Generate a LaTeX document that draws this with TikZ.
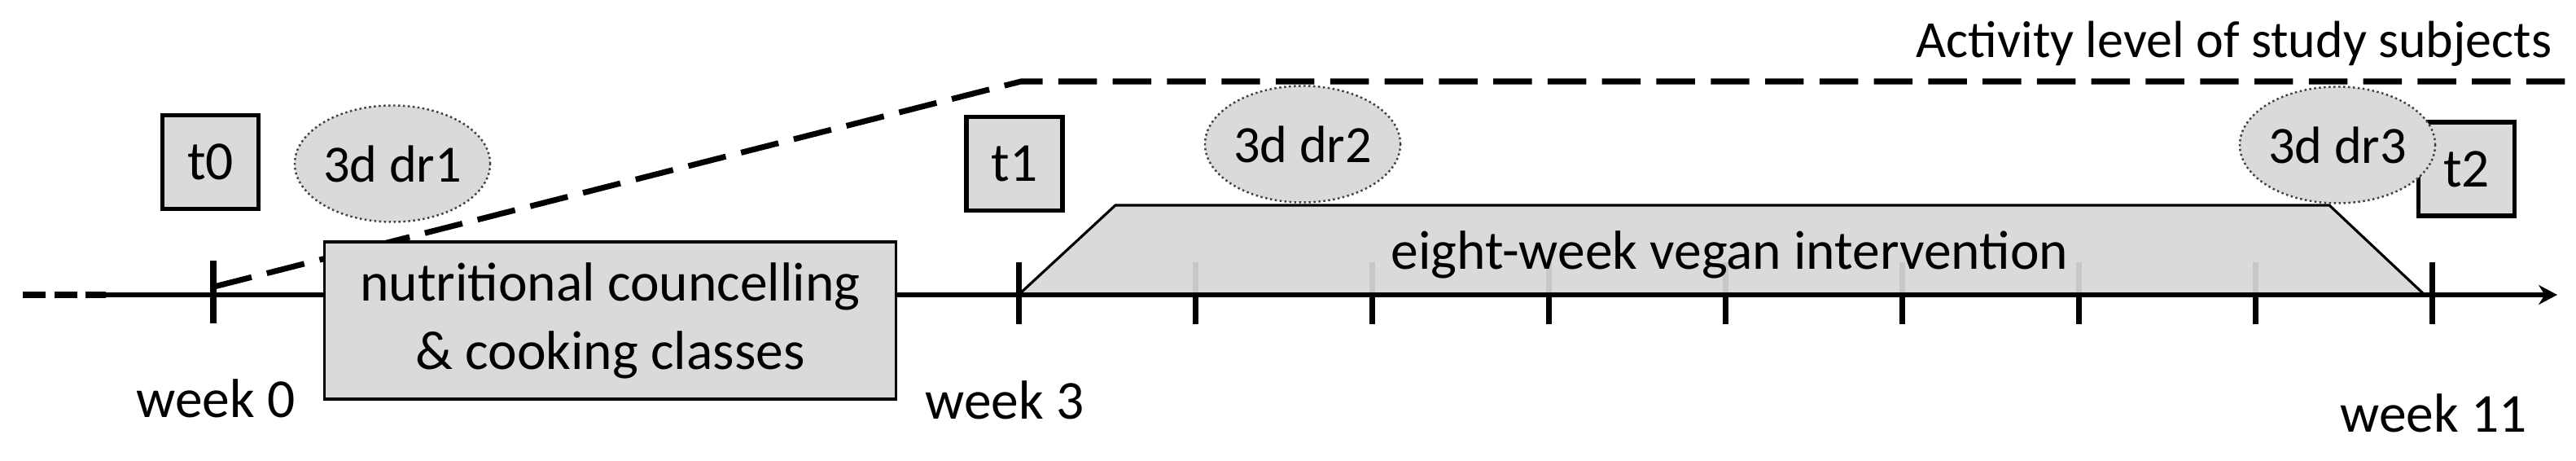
\documentclass[tikz,border=0pt]{standalone}
\usepackage{fontspec}
\setmainfont{Carlito}
\usepackage{xcolor}
\usepackage{tikz}
\usetikzlibrary{
    arrows.meta,
    shapes.geometric
}
\definecolor{fillgray}{RGB}{218,218,218}

\begin{document}
\begin{tikzpicture}[>={Stealth[length=6.5pt,width=6.8pt]},semithick,font=\fontsize{19.2}{23.9}\selectfont]
    \tikzstyle{tbox}=[draw, line width=1.5pt, fill=fillgray, minimum width=1.18cm, minimum height=1.15cm]
    \tikzstyle{drbubble}=[ellipse, draw=black!75, densely dotted, line width=0.7pt, fill=fillgray, minimum width=2.35cm, minimum height=1.43cm, inner sep=0pt, font=\fontsize{18.3}{22}\selectfont]
    \tikzstyle{phase}=[draw, line width=0.9pt, fill=fillgray, align=center]
    \tikzstyle{week}=[anchor=base]
    \tikzstyle{tick}=[line width=2pt]
    \useasboundingbox (0,0) rectangle (31.64,5.66);
    \coordinate (ax0) at (0.28,2.04);
    \coordinate (ax1) at (1.30,2.04);
    \coordinate (axend) at (31.41,2.04);
    \coordinate (w3) at (12.51,2.04);
    \coordinate (act0) at (2.63,2.14);
    \coordinate (act1) at (12.54,4.66);
    \coordinate (act2) at (31.64,4.66);
    \coordinate (v0) at (13.70,3.14);
    \coordinate (v1) at (28.61,3.14);
    \coordinate (v2) at (29.78,2.04);
    % activity level
    \draw[line width=2pt, dash pattern=on 13.5pt off 5.5pt] (act0) -- (act1) -- (act2);
    \node[anchor=base east, font=\fontsize{18.2}{22}\selectfont] (act) at (31.47,4.95) {Activity level of study subjects};
    % intervention
    \draw[fill=fillgray, line width=0.9pt] (w3) -- (v0) -- (v1) -- (v2) -- cycle;
    \foreach \i in {1,...,7} {
        \draw[tick, black!22] ({12.51+\i*2.17},2.07) -- ({12.51+\i*2.17},2.44);
        \draw[tick] ({12.51+\i*2.17},2.04) -- ({12.51+\i*2.17},1.68);
    }
    \node[anchor=base] (veg) at (21.245,2.35) {eight-week vegan intervention};
    % time axis
    \draw[line width=2pt, dash pattern=on 8pt off 3pt] (ax0) -- (ax1);
    \draw[->, line width=1.6pt] (ax1) -- (axend);
    \draw[tick] (2.62,2.46) -- (2.62,1.69);
    \draw[tick] (12.51,2.44) -- (12.51,1.68);
    \draw[tick] (29.87,2.44) -- (29.87,1.68);
    \node[phase, minimum width=7.02cm, minimum height=1.93cm] (nut) at (7.495,1.725) {nutritional councelling\\\& cooking classes};
    % time points
    \node[tbox] (t0) at (2.585,3.67) {t0};
    \node[tbox] (t1) at (12.46,3.65) {t1};
    \node[tbox] (t2) at (30.295,3.585) {t2};
    \node[drbubble] (dr1) at (4.82,3.65) {3d dr1};
    \node[drbubble] (dr2) at (16.0,3.89) {3d dr2};
    \node[drbubble] (dr3) at (28.71,3.88) {3d dr3};
    \node[week] (wk0) at (2.65,0.53) {week 0};
    \node[week] (wk3) at (12.34,0.51) {week 3};
    \node[week] (wk11) at (29.89,0.35) {week 11};
\end{tikzpicture}
\end{document}
